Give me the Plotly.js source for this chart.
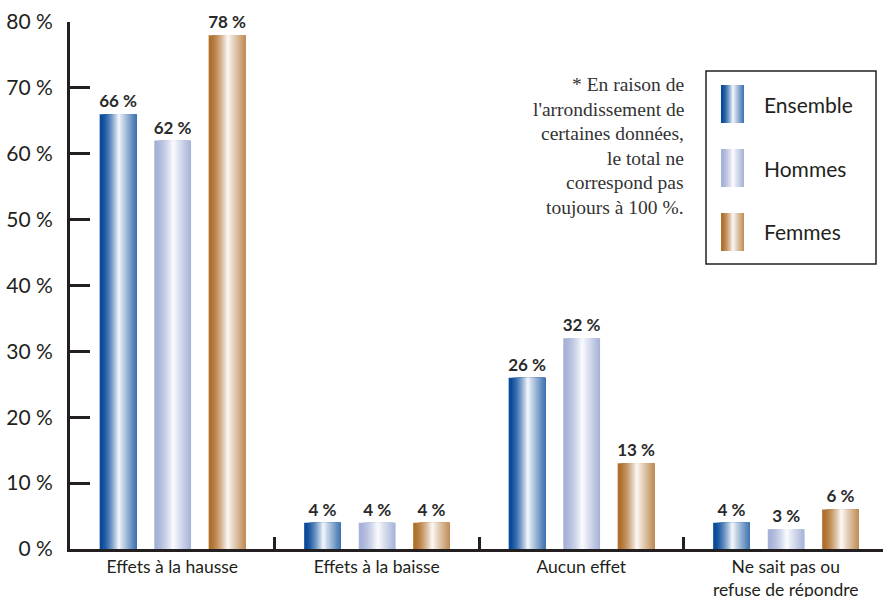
<!DOCTYPE html>
<html>
<head>
<meta charset="utf-8">
<script src="https://cdn.plot.ly/plotly-3.0.1.min.js"></script>
<style>html,body{margin:0;padding:0;background:#fff;}#chart{width:883px;height:597px;}</style>
</head>
<body>
<div id="chart"></div>
<script>
// ---- data ----
const categories = ["Effets à la hausse", "Effets à la baisse", "Aucun effet", "Ne sait pas ou<br>refuse de répondre"];
const seriesNames = ["Ensemble", "Hommes", "Femmes"];
const ensemble = [66, 4, 26, 4];
const hommes = [62, 4, 32, 3];
const femmes = [78, 4, 13, 6];
const yTicks = [0, 10, 20, 30, 40, 50, 60, 70, 80];
const noteLines = ["* En raison de", "l'arrondissement de", "certaines données,", "le total ne", "correspond pas", "toujours à 100 %."];

// ---- styling ----
const seriesValues = [ensemble, hommes, femmes];
const darkColors = [[10, 76, 155], [166, 178, 216], [176, 112, 46]];
const rightWhite = [0.24, 0.02, 0.22];
const centers = [-0.265, 0.002, 0.268];
const W = 0.18;
const PEAK = 0.52;
const N = 16;
const SANS = "Lato, 'Open Sans', sans-serif";
const INK = "#231f20";

function mix(c, t) {
  return "rgb(" + c.map(v => Math.round(v + (255 - v) * t)).join(",") + ")";
}
function leftPos(t) { return PEAK * Math.pow(t, 1 / 1.6); }
function rightPos(t, tR) {
  if (t <= tR) return 1;
  return PEAK + (1 - PEAK) * Math.pow((1 - t) / (1 - tR), 1 / 0.9);
}

const traces = [];
seriesValues.forEach((vals, s) => {
  const left = centers[s] - W / 2;
  for (let k = 0; k < N; k++) {
    const t = k / N;
    const l = leftPos(t), r = rightPos(t, rightWhite[s]);
    const tr = {
      type: "bar",
      x: categories,
      y: vals,
      name: seriesNames[s],
      offset: left + W * l,
      width: W * (r - l),
      marker: {color: mix(darkColors[s], t), line: {width: 0}},
      showlegend: false,
      hoverinfo: "skip"
    };
    if (k === 0) {
      tr.text = vals.map(v => v + " %");
      tr.textposition = "outside";
      tr.constraintext = "none";
      tr.cliponaxis = false;
      tr.textfont = {family: SANS, size: 17, color: "#2a2a2a", weight: 700};
    }
    traces.push(tr);
  }
});

// ---- legend (drawn as shapes/annotations in paper coordinates) ----
const PL = 70, PW = 813, PT = 22, PH = 527;
const px = x => (x - PL) / PW;
const py = y => (PT + PH - y) / PH;
const shapes = [{
  type: "rect", xref: "paper", yref: "paper",
  x0: px(706), x1: px(876), y0: py(71), y1: py(264),
  line: {color: INK, width: 1.5}, fillcolor: "rgba(0,0,0,0)"
}];
const annotations = [];
const swTop = [85, 149, 213];
seriesNames.forEach((nm, s) => {
  for (let k = 0; k < N; k++) {
    const t = k / N;
    const l = leftPos(t), r = rightPos(t, rightWhite[s]);
    shapes.push({
      type: "rect", xref: "paper", yref: "paper",
      x0: px(721 + 23 * l), x1: px(721 + 23 * r),
      y0: py(swTop[s]), y1: py(swTop[s] + 38),
      line: {width: 0}, fillcolor: mix(darkColors[s], t)
    });
  }
  annotations.push({
    xref: "paper", yref: "paper", x: px(762), y: py(swTop[s] + 19),
    xanchor: "left", yanchor: "middle", showarrow: false,
    text: nm, font: {family: SANS, size: 21, color: INK}
  });
});
noteLines.forEach((line, i) => {
  annotations.push({
    xref: "paper", yref: "paper", x: px(686), y: py(85 + 24.4 * i),
    xanchor: "right", yanchor: "middle", showarrow: false,
    text: line, font: {family: "'Liberation Serif', serif", size: 19.5, color: "#333333"}
  });
});

const layout = {
  width: 883, height: 597,
  margin: {l: PL, r: 0, t: PT, b: 597 - PT - PH, pad: 0},
  paper_bgcolor: "#ffffff", plot_bgcolor: "#ffffff",
  barmode: "overlay",
  showlegend: false,
  xaxis: {
    type: "category",
    range: [-0.5, -0.5 + 813 / 204.5],
    showline: true, linecolor: INK, linewidth: 3,
    ticks: "inside", tickson: "boundaries", ticklen: 12, tickwidth: 3, tickcolor: INK,
    showgrid: false, zeroline: false,
    tickfont: {family: SANS, size: 17.5, color: INK},
    ticklabelstandoff: 0
  },
  yaxis: {
    range: [0, 80],
    tickvals: yTicks, ticktext: yTicks.map(v => v + " %"),
    showline: true, linecolor: INK, linewidth: 3,
    ticks: "inside", ticklen: 20, tickwidth: 3, tickcolor: INK,
    showgrid: false, zeroline: false,
    tickfont: {family: SANS, size: 21, color: INK},
    ticklabelstandoff: 10
  },
  shapes: shapes,
  annotations: annotations
};

Plotly.newPlot("chart", traces, layout, {staticPlot: true, displayModeBar: false});
</script>
</body>
</html>
